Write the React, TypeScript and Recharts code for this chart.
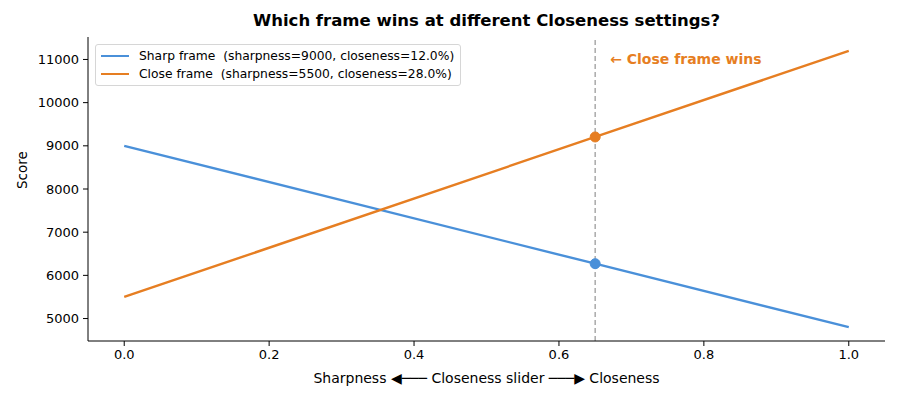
import React from "react";
import {
  ComposedChart,
  Line,
  XAxis,
  YAxis,
  ReferenceLine,
  ReferenceDot,
} from "recharts";

// slider positions and scores
const sliderPositions = [0, 0.65, 1];
const sharpScores = [9000, 6270, 4800];
const closeScores = [5500, 9205, 11200];
const currentSlider = 0.65;
const xTicks = [0, 0.2, 0.4, 0.6, 0.8, 1];
const yTicks = [5000, 6000, 7000, 8000, 9000, 10000, 11000];

const seriesNames = [
  "Sharp frame  (sharpness=9000, closeness=12.0%)",
  "Close frame  (sharpness=5500, closeness=28.0%)",
];
const BLUE = "#4a90d9";
const ORANGE = "#e67e22";
const FONT = "DejaVu Sans, sans-serif";

const data = sliderPositions.map((x, i) => ({
  x,
  sharp: sharpScores[i],
  close: closeScores[i],
}));

const markerIndex = sliderPositions.indexOf(currentSlider);

// matplotlib-style legend box, drawn over the plot
const LegendBox = () => (
  <div
    style={{
      position: "absolute",
      left: 95,
      top: 44,
      border: "1px solid #d6d6d6",
      borderRadius: 3,
      background: "rgba(255,255,255,0.85)",
      padding: "2px 6px 2px 5px",
      fontFamily: FONT,
      fontSize: 12.3,
      color: "#000",
      lineHeight: "18px",
    }}
  >
    {seriesNames.map((name, i) => (
      <div key={name} style={{ display: "flex", alignItems: "center" }}>
        <span
          style={{
            display: "inline-block",
            width: 28,
            height: 2.5,
            background: i === 0 ? BLUE : ORANGE,
            marginRight: 10,
          }}
        />
        <span style={{ whiteSpace: "pre" }}>{name}</span>
      </div>
    ))}
  </div>
);

const App: React.FC = () => {
  return (
    <div style={{ position: "absolute", left: 0, top: 0, width: 900, height: 400, background: "#fff" }}>
      <div
        style={{
          position: "absolute",
          top: 11,
          left: 88,
          width: 797,
          textAlign: "center",
          fontFamily: FONT,
          fontWeight: "bold",
          fontSize: 16.5,
        }}
      >
        Which frame wins at different Closeness settings?
      </div>
      <ComposedChart
        width={900}
        height={400}
        data={data}
        margin={{ top: 37, right: 15, bottom: 0, left: 0 }}
      >
        <XAxis
          dataKey="x"
          type="number"
          domain={[-0.05, 1.05]}
          ticks={xTicks}
          tickFormatter={(v: number) => v.toFixed(1)}
          height={59}
          tickSize={5}
          tickMargin={4}
          stroke="#000"
          tick={{ fill: "#000", fontSize: 13, fontFamily: FONT }}
          label={{
            value: "Sharpness ◀─── Closeness slider ───▶ Closeness",
            position: "insideBottom",
            offset: 17,
            fill: "#000",
            fontSize: 14,
            fontFamily: FONT,
          }}
        />
        <YAxis
          type="number"
          domain={[4480, 11520]}
          ticks={yTicks}
          interval={0}
          width={88}
          tickSize={5}
          tickMargin={4}
          stroke="#000"
          tick={{ fill: "#000", fontSize: 13, fontFamily: FONT }}
          label={{
            value: "Score",
            angle: -90,
            position: "insideLeft",
            offset: 22,
            fill: "#000",
            fontSize: 13.5,
            fontFamily: FONT,
          }}
        />
        <ReferenceLine
          x={currentSlider}
          stroke="#aaaaaa"
          strokeDasharray="5 3"
          strokeWidth={1.5}
          label={{
            value: "← Close frame wins",
            position: "insideTopLeft",
            offset: 0,
            dx: 15,
            dy: 17,
            fill: ORANGE,
            fontWeight: "bold",
            fontSize: 14,
            fontFamily: FONT,
          }}
        />
        <Line
          dataKey="sharp"
          name={seriesNames[0]}
          stroke={BLUE}
          strokeWidth={2.4}
          dot={false}
          isAnimationActive={false}
        />
        <Line
          dataKey="close"
          name={seriesNames[1]}
          stroke={ORANGE}
          strokeWidth={2.4}
          dot={false}
          isAnimationActive={false}
        />
        <ReferenceDot
          x={currentSlider}
          y={sharpScores[markerIndex]}
          r={5}
          fill={BLUE}
          stroke={BLUE}
        />
        <ReferenceDot
          x={currentSlider}
          y={closeScores[markerIndex]}
          r={5}
          fill={ORANGE}
          stroke={ORANGE}
        />
      </ComposedChart>
      <LegendBox />
    </div>
  );
};

export default App;
